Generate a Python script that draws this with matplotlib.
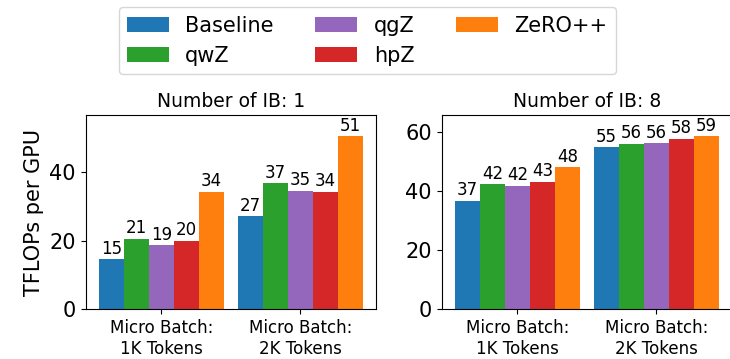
import numpy as np
import matplotlib
matplotlib.use('Agg')
import matplotlib.pyplot as plt

# methods and colors
methods = ['Baseline', 'qwZ', 'qgZ', 'hpZ', 'ZeRO++']
colors = ['#1f77b4', '#2ca02c', '#9467bd', '#d62728', '#ff7f0e']
groups = ['Micro Batch:\n1K Tokens', 'Micro Batch:\n2K Tokens']

# TFLOPs per GPU, one list per method, [1K, 2K]
ib1_baseline = [14.6, 27.2]
ib1_qwz = [20.6, 36.8]
ib1_qgz = [18.7, 34.6]
ib1_hpz = [20.0, 34.4]
ib1_zeropp = [34.3, 50.6]

ib8_baseline = [36.7, 54.9]
ib8_qwz = [42.3, 56.0]
ib8_qgz = [41.8, 56.2]
ib8_hpz = [43.2, 57.7]
ib8_zeropp = [48.1, 58.6]

panels = [
    ('Number of IB: 1', [ib1_baseline, ib1_qwz, ib1_qgz, ib1_hpz, ib1_zeropp]),
    ('Number of IB: 8', [ib8_baseline, ib8_qwz, ib8_qgz, ib8_hpz, ib8_zeropp]),
]

fig = plt.figure(figsize=(7.3, 3.59), dpi=100)
# right panel runs slightly past the edge, as in the cropped original
ax1 = fig.add_axes([0.1174, 0.1393, 0.3977, 0.539])
ax2 = fig.add_axes([0.605, 0.1393, 0.3977, 0.539])
axes = [ax1, ax2]

x = np.arange(len(groups))
w = 0.18
for ax, (title, series) in zip(axes, panels):
    for i, (name, vals) in enumerate(zip(methods, series)):
        bars = ax.bar(x + (i - 2) * w, vals, w, color=colors[i], label=name)
        ax.bar_label(bars, labels=['%.0f' % v for v in vals], fontsize=12, padding=1)
    ax.set_title(title, fontsize=13.5)
    ax.set_xticks(x)
    ax.set_xticklabels(groups, fontsize=12)
    ax.tick_params(axis='y', labelsize=15)
    top = max(max(s) for s in series)
    ax.set_ylim(0, top * 1.12)

ax1.set_ylabel('TFLOPs per GPU', fontsize=15)
ax1.set_yticks([0, 20, 40])
ax2.set_yticks([0, 20, 40, 60])

handles, labels = ax1.get_legend_handles_labels()
fig.legend(handles, labels, loc='upper center', bbox_to_anchor=(0.503, 1.0),
           ncol=3, fontsize=15, borderaxespad=0.35)

plt.savefig('out.png', dpi=100)
